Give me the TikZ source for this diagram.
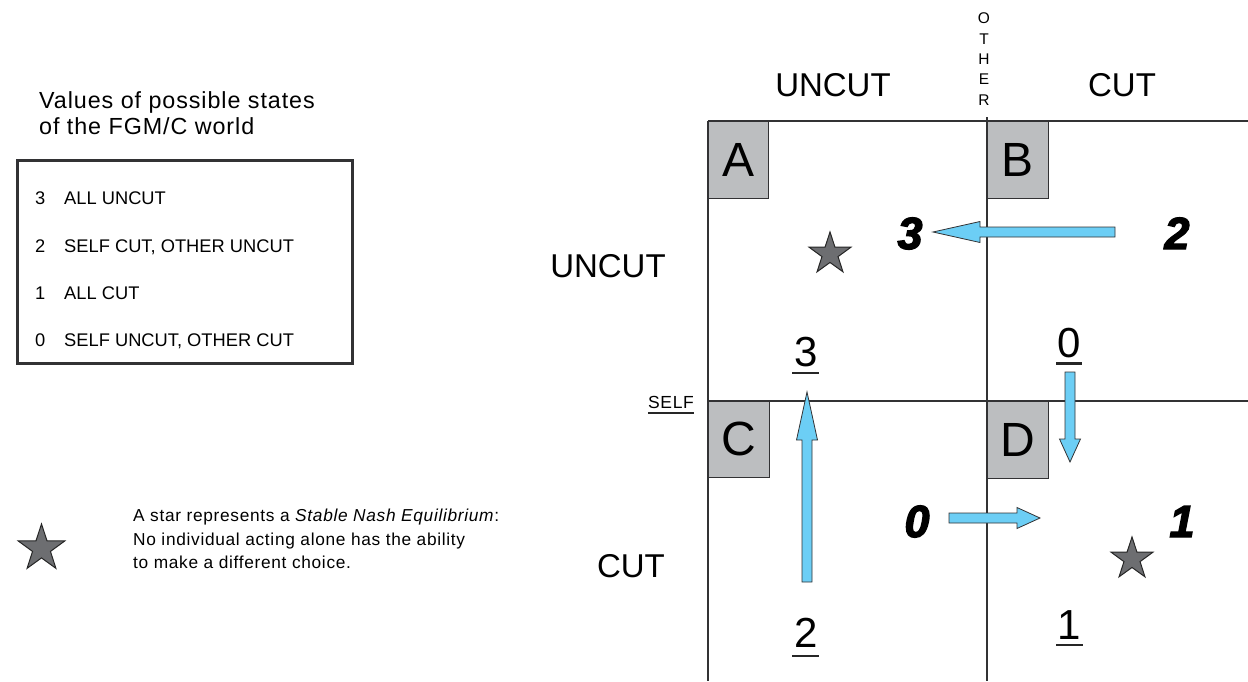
\documentclass[tikz,border=0pt]{standalone}
\usepackage{fontspec}
\setmainfont{Liberation Sans}
\newfontfamily\widefont{Liberation Sans}[LetterSpace=4]
\newfontfamily\numfont{Liberation Sans}[BoldItalicFeatures={FakeBold=3}]
\usetikzlibrary{shapes.geometric}
\definecolor{gridc}{RGB}{50,50,52}
\definecolor{boxgray}{RGB}{188,190,192}
\definecolor{arrowblue}{RGB}{108,206,245}
\definecolor{stargray}{RGB}{109,110,113}
\tikzset{
  gridline/.style={draw=gridc, line width=1.8pt},
  cellbox/.style={fill=boxgray, draw=gridc, line width=1pt},
  cellletter/.style={inner sep=0pt, font=\fontsize{48}{48}\selectfont},
  axislabel/.style={inner sep=0pt, anchor=base, font=\fontsize{33}{33}\selectfont},
  bignum/.style={inner sep=0pt, anchor=base, font=\numfont\bfseries\itshape\fontsize{45}{45}\selectfont},
  ulnum/.style={inner sep=0pt, anchor=base, font=\fontsize{42}{42}\selectfont},
  ulline/.style={draw=black!85, line width=2.4pt},
  blockarrow/.style={fill=arrowblue, draw=gridc, line width=0.8pt, line join=miter},
  nashstar/.style={star, star points=5, star point ratio=2.6, fill=stargray, draw=black!85, line width=1pt, inner sep=0pt},
  legendtext/.style={inner sep=0pt, anchor=base west, font=\widefont\fontsize{17.3}{17}\selectfont},
  itemtext/.style={inner sep=0pt, anchor=base west, font=\fontsize{18.3}{18}\selectfont},
}
\begin{document}
\begin{tikzpicture}[x=1pt, y=-1pt]
\useasboundingbox (0,0) rectangle (1248,681);

% ---------- legend (left) ----------
\node[legendtext, font=\widefont\fontsize{23.3}{23}\selectfont] (title1) at (39,108) {Values of possible states};
\node[legendtext, font=\widefont\fontsize{23.3}{23}\selectfont] (title2) at (39,134) {of the FGM/C world};
\draw[draw=gridc, line width=3pt] (17,160) rectangle (352,363);
\node[itemtext] (n3) at (35,204) {3};
\node[itemtext] (t3) at (64,204) {ALL UNCUT};
\node[itemtext] (n2) at (35,252) {2};
\node[itemtext] (t2) at (64,252) {SELF CUT, OTHER UNCUT};
\node[itemtext] (n1) at (35,299) {1};
\node[itemtext] (t1) at (64,299) {ALL CUT};
\node[itemtext] (n0) at (35,346) {0};
\node[itemtext] (t0) at (64,346) {SELF UNCUT, OTHER CUT};

\node[nashstar, minimum size=49pt] (lstar) at (41.5,548.5) {};
\node[legendtext] (l1) at (133,521) {A star represents a \textit{Stable Nash Equilibrium}:};
\node[legendtext] (l2) at (133,545) {No individual acting alone has the ability};
\node[legendtext] (l3) at (133,568.5) {to make a different choice.};

% ---------- grid ----------
\draw[gridline] (708,121) -- (1248,121);
\draw[gridline] (708,401) -- (1248,401);
\draw[gridline] (708,121) -- (708,681);
\draw[gridline] (987,117) -- (987,681);

\draw[cellbox] (708,121) rectangle (768,198);
\draw[cellbox] (987,121) rectangle (1048,198);
\draw[cellbox] (708,401) rectangle (769,477);
\draw[cellbox] (987,401) rectangle (1048,478);
\node[cellletter] (A) at (738.5,160) {A};
\node[cellletter] (B) at (1017.5,160) {B};
\node[cellletter] (C) at (738.5,439) {C};
\node[cellletter] (D) at (1017.5,440) {D};

% ---------- axis labels ----------
\node[axislabel] (topuncut) at (833,96) {UNCUT};
\node[axislabel] (topcut) at (1122,96) {CUT};
\node[axislabel] (leftuncut) at (608,277) {UNCUT};
\node[axislabel] (leftcut) at (631,577) {CUT};
\node[inner sep=0pt, align=center, font=\fontsize{15.5}{20.3}\selectfont] (other) at (984,59) {O\\T\\H\\E\\R};
\node[inner sep=0pt, anchor=base, font=\widefont\fontsize{17.5}{17}\selectfont] (self) at (671,408) {SELF};
\draw[draw=black!85, line width=1.3pt] ([yshift=-5pt]self.base west) -- ([yshift=-5pt]self.base east);

% ---------- stars ----------
\node[nashstar, minimum size=44pt] (starA) at (830,254) {};
\node[nashstar, minimum size=44pt] (starD) at (1132,559) {};

% ---------- bold italic payoffs ----------
\node[bignum] (p3) at (910,249) {3};
\node[bignum] (p2) at (1177,249) {2};
\node[bignum] (p0) at (917,537) {0};
\node[bignum] (p1) at (1182,537) {1};

% ---------- underlined payoffs ----------
\node[ulnum] (u3) at (806,366) {3};
\node[ulnum] (u0) at (1069,357) {0};
\node[ulnum] (u2) at (806,647) {2};
\node[ulnum] (u1) at (1069,639) {1};
\draw[ulline] (792,373) -- (819,373);
\draw[ulline] (1056,363.5) -- (1082,363.5);
\draw[ulline] (792,656) -- (819,656);
\draw[ulline] (1056,645) -- (1083,645);

% ---------- block arrows ----------
% B -> A (left)
\draw[blockarrow] (1115,227) -- (980,227) -- (980,221.5) -- (933,232) -- (980,242.5) -- (980,237) -- (1115,237) -- cycle;
% B -> D (down)
\draw[blockarrow] (1065,372) -- (1065,439) -- (1059.5,439) -- (1070,462) -- (1080.5,439) -- (1075,439) -- (1075,372) -- cycle;
% C -> D (right)
\draw[blockarrow] (949,513) -- (1017,513) -- (1017,507.5) -- (1040,518) -- (1017,528.5) -- (1017,523) -- (949,523) -- cycle;
% C -> A (up)
\draw[blockarrow] (802,582) -- (802,440) -- (796.5,440) -- (807,392) -- (817.5,440) -- (812,440) -- (812,582) -- cycle;
\end{tikzpicture}
\end{document}
